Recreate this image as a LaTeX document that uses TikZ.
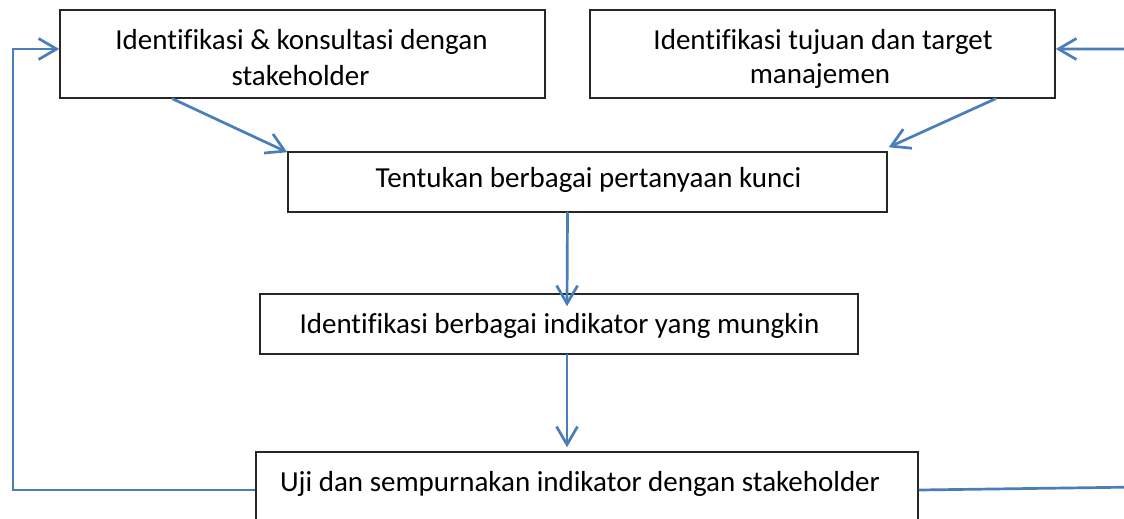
\documentclass[tikz,border=0pt]{standalone}
\usepackage{fontspec}
\setmainfont{Carlito}[Ligatures={NoCommon}]
\usetikzlibrary{arrows.meta,calc}
\definecolor{flowblue}{HTML}{4A7EBB}
\tikzset{
  box/.style={draw=black!85, line width=1.5pt, fill=white, inner sep=0pt, minimum width=#1},
  label text/.style={anchor=base, inner sep=0pt, font=\fontsize{29}{34}\selectfont},
  flow/.style={draw=flowblue, line width=2.7pt, line cap=round,
    -{Straight Barb[length=18pt, width=21pt, line width=2.7pt]}},
}
\begin{document}
\begin{tikzpicture}[x=1pt, y=-1pt]
  \clip (0,0) rectangle (1124,519);
  \fill[white] (0,0) rectangle (1124,519);

  % boxes
  \node[box=485pt, minimum height=88pt] (b1) at (302.5,54) {};
  \node[box=465pt, minimum height=88pt] (b2) at (822.5,54) {};
  \node[box=599pt, minimum height=60pt] (b3) at (587.5,182) {};
  \node[box=598pt, minimum height=60pt] (b4) at (559,324) {};
  \node[box=662pt, minimum height=76pt] (b5) at (587,490) {};

  % texts
  \node[label text] (t1a) at (301.5,49) {Identifikasi \& konsultasi dengan};
  \node[label text] (t1b) at (300.5,85) {stakeholder};
  \node[label text] (t2a) at (823,49) {Identifikasi tujuan dan target};
  \node[label text] (t2b) at (820,84) {manajemen};
  \node[label text] (t3) at (588.5,187) {Tentukan berbagai pertanyaan kunci};
  \node[label text] (t4) at (559.5,333) {Identifikasi berbagai indikator yang mungkin};
  \node[label text] (t5) at (580,491) {Uji dan sempurnakan indikator dengan stakeholder};

  % main flow
  \draw[flow] ([xshift=-130pt]b1.south) -- ([yshift=-1pt]b3.north west);
  \draw[flow] ([xshift=173pt]b2.south) -- ([xshift=1pt,yshift=4pt]b3.north east);
  \draw[flow] ([xshift=-20pt]b3.south) -- ([xshift=8pt,yshift=-13pt]b4.north);
  \draw[flow] ([xshift=8pt]b4.south) -- ([xshift=-20pt,yshift=4pt]b5.north);

  % feedback loops
  \coordinate (leftcorner) at (13,490);
  \coordinate (rightcorner) at (1140,487);
  \draw[flow, line cap=butt] (b5.west) -- (leftcorner) |- ([yshift=5pt]b1.west);
  \draw[flow, line cap=butt] (b5.east) -- (rightcorner) |- ([yshift=5pt]b2.east);
\end{tikzpicture}
\end{document}
